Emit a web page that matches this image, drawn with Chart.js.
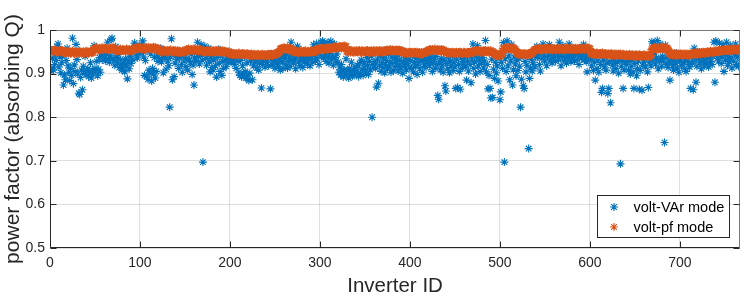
<!DOCTYPE html>
<html>
<head>
<meta charset="utf-8">
<script src="https://cdn.jsdelivr.net/npm/chart.js@4.4.0/dist/chart.umd.min.js"></script>
<style>
  html, body { margin: 0; padding: 0; background: #fff; }
  canvas { display: block; }
</style>
</head>
<body>
<canvas id="myChart" width="746" height="299"></canvas>
<script>
// power factor per inverter (IDs 1..767)
var voltVarPf = [
.906,.912,.935,.908,.921,.944,.930,.962,.968,.915,.938,.902,.925,.941,.874,.897,.886,.930,.958,.918,
.903,.884,.912,.896,.981,.877,.920,.905,.967,.932,.899,.855,.852,.891,.908,.863,.917,.904,.940,.898,
.907,.911,.893,.902,.925,.890,.908,.899,.964,.912,.906,.928,.895,.910,.937,.903,.945,.931,.959,.942,
.938,.929,.945,.972,.933,.926,.941,.978,.981,.935,.930,.919,.962,.937,.925,.944,.914,.932,.921,.908,
.915,.926,.904,.934,.918,.888,.929,.911,.940,.923,.947,.931,.955,.970,.962,.945,.936,.958,.964,.950,
.948,.962,.975,.938,.896,.930,.894,.951,.887,.908,.901,.945,.883,.912,.899,.937,.890,.905,.942,.928,
.946,.934,.958,.927,.941,.902,.952,.936,.910,.944,.929,.918,.823,.938,.980,.886,.948,.893,.924,.940,
.933,.945,.912,.937,.950,.921,.903,.941,.929,.947,.916,.935,.908,.954,.931,.925,.944,.898,.919,.874,
.936,.928,.947,.972,.939,.922,.944,.966,.931,.697,.948,.963,.935,.919,.942,.958,.927,.904,.938,.914,
.909,.931,.945,.918,.892,.937,.956,.924,.905,.941,.896,.928,.912,.949,.933,.917,.940,.926,.951,.935,
.938,.927,.944,.932,.921,.935,.912,.940,.928,.903,.896,.930,.892,.918,.899,.937,.905,.889,.925,.897,
.884,.901,.929,.937,.886,.918,.934,.926,.941,.913,.932,.908,.924,.938,.867,.921,.930,.944,.915,.935,
.926,.939,.918,.945,.865,.933,.920,.941,.929,.912,.936,.924,.947,.917,.931,.908,.938,.927,.912,.943,
.935,.921,.944,.913,.928,.938,.917,.972,.930,.942,.924,.934,.911,.939,.963,.926,.945,.918,.931,.940,
.914,.936,.927,.945,.931,.922,.940,.933,.918,.951,.938,.926,.966,.943,.929,.969,.934,.947,.921,.958,
.972,.941,.975,.936,.969,.943,.928,.971,.938,.924,.946,.974,.933,.940,.919,.968,.937,.929,.945,.926,
.903,.915,.897,.921,.905,.892,.909,.899,.934,.896,.907,.890,.912,.902,.926,.894,.908,.897,.915,.900,
.906,.918,.893,.923,.901,.931,.910,.896,.925,.913,.904,.937,.919,.898,.928,.909,.940,.800,.921,.915,
.927,.912,.869,.933,.878,.919,.940,.905,.925,.914,.936,.902,.921,.930,.911,.944,.917,.926,.903,.938,
.923,.908,.935,.916,.929,.942,.906,.920,.931,.913,.945,.901,.927,.918,.937,.909,.924,.932,.889,.915,
.930,.912,.941,.904,.926,.918,.935,.898,.922,.939,.911,.928,.946,.903,.933,.920,.938,.914,.927,.944,
.936,.918,.929,.941,.905,.924,.933,.912,.939,.921,.850,.841,.927,.909,.935,.918,.903,.930,.872,.860,
.924,.911,.937,.902,.929,.918,.940,.907,.926,.915,.866,.933,.868,.921,.905,.864,.936,.912,.928,.919,
.938,.917,.885,.929,.906,.943,.921,.879,.934,.968,.912,.927,.899,.940,.964,.918,.931,.905,.945,.924,
.937,.913,.929,.976,.904,.921,.865,.896,.866,.844,.933,.845,.910,.889,.926,.902,.918,.883,.935,.840,
.858,.926,.912,.971,.697,.934,.905,.975,.918,.941,.886,.929,.967,.874,.909,.938,.922,.895,.931,.907,
.935,.917,.823,.887,.943,.872,.866,.928,.904,.919,.940,.728,.889,.913,.932,.906,.925,.947,.915,.937,
.962,.938,.944,.921,.906,.957,.935,.968,.942,.929,.953,.918,.939,.946,.966,.931,.944,.925,.950,.937,
.941,.928,.955,.947,.933,.972,.939,.918,.945,.964,.930,.951,.937,.924,.948,.942,.968,.935,.927,.946,
.938,.952,.929,.944,.957,.933,.946,.921,.940,.955,.936,.948,.967,.931,.943,.927,.904,.939,.950,.934,
.933,.918,.941,.907,.926,.885,.937,.912,.929,.903,.944,.921,.857,.866,.931,.915,.939,.908,.924,.854,
.866,.927,.833,.938,.919,.906,.934,.923,.912,.942,.928,.901,.936,.693,.917,.930,.866,.909,.925,.940,
.921,.935,.908,.928,.899,.917,.932,.904,.866,.923,.938,.895,.912,.929,.864,.907,.941,.862,.919,.926,
.932,.915,.941,.904,.868,.926,.939,.918,.973,.930,.970,.945,.922,.936,.976,.911,.928,.968,.934,.917,
.940,.929,.742,.965,.921,.937,.914,.926,.885,.942,.931,.918,.908,.936,.924,.947,.913,.932,.903,.928,
.937,.919,.944,.926,.912,.933,.905,.940,.928,.921,.915,.866,.938,.924,.863,.958,.931,.880,.917,.942,
.934,.925,.946,.911,.938,.929,.918,.941,.932,.923,.945,.915,.936,.928,.947,.921,.939,.972,.880,.975,
.948,.935,.929,.970,.942,.923,.938,.966,.905,.945,.931,.972,.919,.940,.927,.965,.936,.913,.951,.928,
.944,.968,.921,.939,.916,.957,.934
];

var voltPfPf = [
.951,.953,.952,.950,.954,.952,.951,.953,.950,.952,.954,.951,.953,.952,.950,.949,.947,.950,.948,.951,
.948,.950,.947,.949,.951,.948,.946,.950,.949,.947,.950,.948,.951,.949,.947,.948,.950,.946,.949,.951,
.948,.950,.947,.949,.951,.948,.950,.949,.955,.958,.956,.959,.957,.955,.958,.956,.957,.959,.955,.957,
.958,.956,.957,.959,.955,.957,.958,.956,.959,.957,.955,.958,.954,.952,.955,.953,.954,.956,.952,.954,
.955,.953,.954,.952,.956,.954,.953,.955,.952,.954,.956,.953,.955,.957,.959,.958,.956,.960,.958,.957,
.959,.957,.958,.960,.956,.958,.959,.957,.960,.958,.956,.959,.957,.958,.960,.957,.959,.956,.958,.957,
.953,.951,.952,.954,.950,.952,.953,.951,.952,.950,.953,.951,.952,.954,.950,.951,.952,.950,.953,.951,
.950,.952,.949,.951,.950,.948,.951,.950,.949,.951,.953,.955,.954,.956,.952,.954,.955,.953,.956,.954,
.955,.953,.954,.956,.952,.954,.955,.953,.951,.950,.952,.951,.949,.952,.950,.951,.953,.950,.951,.952,
.950,.952,.951,.949,.952,.950,.951,.953,.950,.951,.949,.952,.950,.951,.949,.950,.948,.949,.946,.947,
.945,.947,.944,.946,.945,.943,.946,.944,.945,.947,.944,.945,.943,.946,.944,.945,.943,.944,.946,.943,
.944,.942,.943,.945,.942,.943,.944,.941,.943,.942,.944,.943,.941,.943,.942,.944,.942,.943,.941,.943,
.942,.944,.943,.941,.943,.944,.942,.943,.945,.944,.946,.945,.947,.948,.950,.955,.957,.958,.956,.959,
.957,.958,.956,.959,.957,.955,.958,.956,.954,.952,.950,.951,.949,.951,.950,.948,.951,.950,.952,.950,
.949,.951,.950,.952,.949,.950,.951,.949,.950,.952,.950,.951,.949,.951,.953,.955,.956,.954,.957,.955,
.957,.956,.958,.957,.955,.958,.957,.959,.956,.958,.959,.957,.960,.958,.959,.961,.959,.960,.958,.961,
.960,.962,.961,.959,.962,.961,.963,.960,.962,.952,.950,.951,.953,.950,.952,.951,.949,.952,.950,.951,
.952,.950,.951,.953,.950,.951,.952,.949,.951,.950,.952,.951,.953,.950,.951,.949,.952,.950,.951,.953,
.950,.951,.952,.950,.951,.953,.950,.952,.951,.950,.952,.951,.953,.952,.954,.952,.953,.955,.952,.953,
.954,.952,.953,.951,.954,.953,.952,.954,.951,.953,.952,.950,.948,.947,.949,.948,.946,.949,.947,.948,
.949,.947,.948,.946,.949,.948,.947,.949,.946,.948,.947,.945,.948,.946,.947,.949,.948,.950,.949,.952,
.953,.955,.954,.952,.955,.953,.954,.956,.953,.954,.955,.953,.954,.952,.955,.953,.954,.952,.951,.950,
.948,.947,.949,.946,.948,.947,.949,.948,.946,.948,.947,.949,.946,.948,.947,.949,.948,.946,.947,.949,
.948,.946,.947,.949,.948,.946,.948,.949,.950,.951,.952,.950,.951,.953,.950,.952,.951,.950,.952,.951,
.950,.952,.951,.953,.950,.951,.952,.950,.951,.952,.949,.950,.948,.945,.943,.942,.944,.942,.943,.941,
.943,.945,.952,.957,.958,.956,.959,.958,.957,.959,.956,.958,.960,.957,.958,.956,.955,.952,.948,.946,
.945,.944,.946,.943,.945,.944,.946,.945,.943,.945,.944,.946,.945,.944,.946,.948,.950,.953,.955,.956,
.955,.957,.956,.958,.955,.956,.957,.955,.958,.956,.955,.957,.956,.958,.955,.957,.956,.954,.957,.956,
.957,.955,.956,.958,.956,.955,.957,.956,.958,.955,.957,.956,.955,.958,.956,.957,.955,.956,.958,.957,
.955,.957,.956,.958,.955,.957,.956,.958,.957,.955,.956,.958,.957,.956,.958,.957,.959,.957,.958,.956,
.947,.945,.946,.948,.945,.946,.944,.947,.945,.946,.944,.946,.945,.947,.944,.945,.946,.944,.945,.943,
.945,.943,.944,.946,.943,.944,.942,.945,.943,.944,.942,.944,.943,.945,.942,.943,.944,.942,.943,.941,
.943,.941,.942,.944,.941,.942,.943,.941,.942,.940,.943,.941,.942,.940,.943,.941,.942,.940,.941,.943,
.941,.940,.942,.940,.941,.943,.940,.942,.955,.958,.957,.959,.958,.956,.959,.957,.958,.960,.957,.958,
.959,.957,.958,.956,.959,.957,.954,.950,.946,.944,.945,.943,.944,.946,.943,.944,.942,.945,.943,.944,
.945,.943,.944,.942,.945,.944,.943,.945,.942,.944,.943,.945,.944,.946,.945,.947,.946,.944,.947,.946,
.947,.948,.946,.948,.947,.949,.948,.946,.949,.948,.950,.948,.949,.951,.949,.950,.948,.951,.950,.952,
.951,.950,.952,.951,.953,.952,.954,.952,.953,.955,.953,.954,.956,.954,.955,.953,.956,.955,.954,.956,
.955,.957,.954,.956,.955,.957,.956
];

var xTicks = [0, 100, 200, 300, 400, 500, 600, 700];
var yTicks = [0.5, 0.6, 0.7, 0.8, 0.9, 1];
var seriesLabels = ['volt-VAr mode', 'volt-pf mode'];
var seriesColors = ['#0072BD', '#D95319'];

var axisColor = '#262626';
var fontFamily = '"Liberation Sans", Arial, Helvetica, sans-serif';

Chart.defaults.font.family = fontFamily;
Chart.defaults.color = axisColor;

function toPoints(values) {
    return values.map(function (v, i) { return { x: i + 1, y: v }; });
}

function drawStar(ctx, x, y, color) {
    if (Chart.helpers && Chart.helpers.drawPoint) {
        ctx.strokeStyle = color;
        ctx.fillStyle = color;
        ctx.lineWidth = 1.1;
        Chart.helpers.drawPoint(ctx, { pointStyle: 'star', radius: 4, borderWidth: 1.1 }, x, y);
    }
}

// MATLAB-style box with inward ticks on all four sides
var axesBox = {
    id: 'axesBox',
    afterDatasetsDraw: function (chart) {
        var ctx = chart.ctx;
        var a = chart.chartArea;
        var xs = chart.scales.x, ys = chart.scales.y;
        var L = Math.round(a.left) + 0.5, R = Math.round(a.right) - 0.5;
        var T = Math.round(a.top) + 0.5, B = Math.round(a.bottom) - 0.5;
        var tl = 6;
        ctx.save();
        ctx.lineWidth = 1;
        ctx.strokeStyle = '#7a7a7a';
        ctx.beginPath();
        ctx.moveTo(L, T); ctx.lineTo(R, T); ctx.lineTo(R, B);
        ctx.stroke();
        ctx.strokeStyle = axisColor;
        ctx.beginPath();
        ctx.moveTo(L, T); ctx.lineTo(L, B); ctx.lineTo(R, B);
        ctx.stroke();
        ctx.beginPath();
        xTicks.forEach(function (v) {
            var px = Math.round(xs.getPixelForValue(v)) + 0.5;
            ctx.moveTo(px, B); ctx.lineTo(px, B - tl);
            ctx.moveTo(px, T); ctx.lineTo(px, T + tl);
        });
        yTicks.forEach(function (v) {
            var py = Math.round(ys.getPixelForValue(v)) + 0.5;
            ctx.moveTo(L, py); ctx.lineTo(L + tl, py);
            ctx.moveTo(R, py); ctx.lineTo(R - tl, py);
        });
        ctx.stroke();
        ctx.restore();
    }
};

// legend boxed inside the lower right corner of the axes
var insideLegend = {
    id: 'insideLegend',
    afterDraw: function (chart) {
        var ctx = chart.ctx;
        var a = chart.chartArea;
        var w = 132, h = 42;
        var x0 = Math.round(a.right - 11 - w) + 0.5;
        var y0 = Math.round(a.bottom - 11 - h) + 0.5;
        ctx.save();
        ctx.fillStyle = '#ffffff';
        ctx.fillRect(x0, y0, w, h);
        ctx.strokeStyle = axisColor;
        ctx.lineWidth = 1;
        ctx.strokeRect(x0, y0, w, h);
        ctx.font = '14.5px ' + fontFamily;
        ctx.textBaseline = 'middle';
        chart.data.datasets.forEach(function (ds, i) {
            var cy = y0 + 11.5 + i * 20;
            drawStar(ctx, x0 + 16.5, cy, ds.borderColor);
            ctx.fillStyle = '#000000';
            ctx.fillText(ds.label, x0 + 36, cy + 0.5);
        });
        ctx.restore();
    }
};

var ctx = document.getElementById('myChart').getContext('2d');
var myChart = new Chart(ctx, {
    type: 'scatter',
    data: {
        datasets: [{
            label: seriesLabels[0],
            data: toPoints(voltVarPf),
            borderColor: seriesColors[0],
            backgroundColor: seriesColors[0],
            pointStyle: 'star',
            pointRadius: 4,
            pointBorderWidth: 1.1,
            order: 1
        }, {
            label: seriesLabels[1],
            data: toPoints(voltPfPf),
            borderColor: seriesColors[1],
            backgroundColor: seriesColors[1],
            pointStyle: 'star',
            pointRadius: 4.6,
            pointBorderWidth: 1.3,
            order: 0
        }]
    },
    options: {
        responsive: false,
        animation: false,
        events: [],
        layout: { padding: { left: 0, right: 3, top: 30, bottom: 0 } },
        plugins: {
            legend: { display: false },
            tooltip: { enabled: false }
        },
        scales: {
            x: {
                type: 'linear',
                min: 0,
                max: 767,
                afterBuildTicks: function (s) { s.ticks = xTicks.map(function (v) { return { value: v }; }); },
                afterFit: function (s) { s.height = 51; },
                grid: { color: 'rgba(38,38,38,0.15)', drawTicks: false },
                border: { display: false },
                ticks: { padding: 7, font: { size: 14 }, color: axisColor, maxRotation: 0 },
                title: { display: true, text: 'Inverter ID', font: { size: 20.5 }, color: axisColor, padding: { top: 0, bottom: 0 } }
            },
            y: {
                min: 0.5,
                max: 1,
                afterBuildTicks: function (s) { s.ticks = yTicks.map(function (v) { return { value: v }; }); },
                afterFit: function (s) { s.width = 50; },
                grid: { color: 'rgba(38,38,38,0.15)', drawTicks: false },
                border: { display: false },
                ticks: {
                    padding: 5,
                    font: { size: 14 },
                    color: axisColor,
                    callback: function (v) { return v === 1 ? '1' : v.toFixed(1); }
                },
                title: { display: true, text: 'power factor (absorbing Q)', font: { size: 21 }, color: axisColor, padding: { top: 1, bottom: 0 } }
            }
        }
    },
    plugins: [axesBox, insideLegend]
});
</script>
</body>
</html>
